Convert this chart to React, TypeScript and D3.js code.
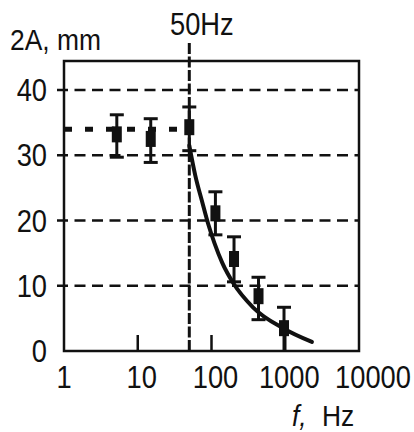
import React from "react";
import * as d3 from "d3";

const freqs = [5.2, 15, 50, 113, 202, 434, 962];
const amps = [33.2, 32.5, 34.3, 21.1, 14.1, 8.4, 3.5];
const errHi = [36.2, 35.6, 37.4, 24.4, 17.5, 11.3, 6.7];
const errLo = [29.7, 28.9, 30.7, 17.8, 10.6, 4.8, 0];

const fitF = [50, 60, 75, 90, 110, 140, 200, 365, 933, 2300];
const fitA = [31.5, 27, 22.8, 19.5, 16.5, 13.5, 10.3, 6.7, 3.5, 1.4];

const xTicks = [1, 10, 100, 1000, 10000];
const xTickLabels = ["1", "10", "100", "1000", "10000"];
const yTicks = [0, 10, 20, 30, 40];
const gridValues = [10, 20, 30, 40];
const plateau = 34;
const cutoff = 50;

const W = 414, H = 432;
const left = 64, right = 359, top = 61, bottom = 351;
const FONT = "'Liberation Sans', Arial, sans-serif";
const SX = 0.88;

export default function App() {
  const x = d3.scaleLog().domain([1, 10000]).range([left, right]);
  const y = d3.scaleLinear().domain([0, 40]).range([bottom, 90]);
  const line = d3
    .line<number>()
    .x((_, i) => x(fitF[i]))
    .y((d) => y(d))
    .curve(d3.curveMonotoneX);

  const txt = (
    s: React.ReactNode,
    tx: number,
    ty: number,
    anchor: string,
    size = 30,
    key?: string | number,
    italic = false
  ) => (
    <text
      key={key}
      transform={`translate(${tx},${ty}) scale(${SX},1)`}
      textAnchor={anchor}
      fontFamily={FONT}
      fontSize={size}
      fontStyle={italic ? "italic" : "normal"}
      fill="#111"
    >
      {s}
    </text>
  );

  return (
    <svg
      width={W}
      height={H}
      style={{ position: "absolute", left: 0, top: 0, background: "#fff" }}
    >
      <rect x={0} y={0} width={W} height={H} fill="#fff" />
      {/* gridlines */}
      {gridValues.map((v) => (
        <line
          key={"g" + v}
          x1={left - 7}
          x2={right}
          y1={y(v)}
          y2={y(v)}
          stroke="#111"
          strokeWidth={2.6}
          strokeDasharray="11,6.5"
        />
      ))}
      {/* frame */}
      <rect
        x={left}
        y={top}
        width={right - left}
        height={bottom - top}
        fill="none"
        stroke="#111"
        strokeWidth={2.5}
      />
      {/* bottom ticks */}
      {[10, 100, 1000].map((v) => (
        <line
          key={"t" + v}
          x1={x(v)}
          x2={x(v)}
          y1={bottom}
          y2={bottom - 16}
          stroke="#111"
          strokeWidth={2.5}
        />
      ))}
      {/* plateau line */}
      <line
        x1={left}
        x2={x(cutoff)}
        y1={y(plateau)}
        y2={y(plateau)}
        stroke="#111"
        strokeWidth={5}
        strokeDasharray="8,13"
      />
      {/* cutoff vertical line */}
      <line
        x1={x(cutoff)}
        x2={x(cutoff)}
        y1={43}
        y2={bottom}
        stroke="#111"
        strokeWidth={3}
        strokeDasharray="11,2.5"
      />
      {/* fit curve */}
      <path
        d={line(fitA) || ""}
        fill="none"
        stroke="#111"
        strokeWidth={4}
        strokeLinecap="round"
      />
      {/* error bars and points */}
      {freqs.map((f, i) => {
        const cx = x(f);
        return (
          <g key={"p" + i}>
            <line x1={cx} x2={cx} y1={y(errHi[i])} y2={y(errLo[i])} stroke="#111" strokeWidth={3} />
            <line x1={cx - 7} x2={cx + 7} y1={y(errHi[i])} y2={y(errHi[i])} stroke="#111" strokeWidth={3} />
            {errLo[i] > 0 && (
              <line x1={cx - 7} x2={cx + 7} y1={y(errLo[i])} y2={y(errLo[i])} stroke="#111" strokeWidth={3} />
            )}
            <rect x={cx - 5} y={y(amps[i]) - 8} width={10} height={16} fill="#111" />
          </g>
        );
      })}
      {/* y tick labels */}
      {yTicks.map((v) => txt(String(v), 47, y(v) + 11, "end", 31, "y" + v))}
      {/* x tick labels */}
      {xTicks.map((v, i) =>
        txt(xTickLabels[i], x(v) + (i === 4 ? 14 : i === 0 ? 0 : 4), 388, "middle", 31, "x" + v)
      )}
      {/* titles */}
      {txt("2A, mm", 10, 50, "start", 30)}
      {txt("50Hz", 170, 35, "start", 31)}
      {txt("f,", 292, 426, "start", 30, "fl", true)}
      {txt("Hz", 322, 426, "start", 30, "hz")}
    </svg>
  );
}
